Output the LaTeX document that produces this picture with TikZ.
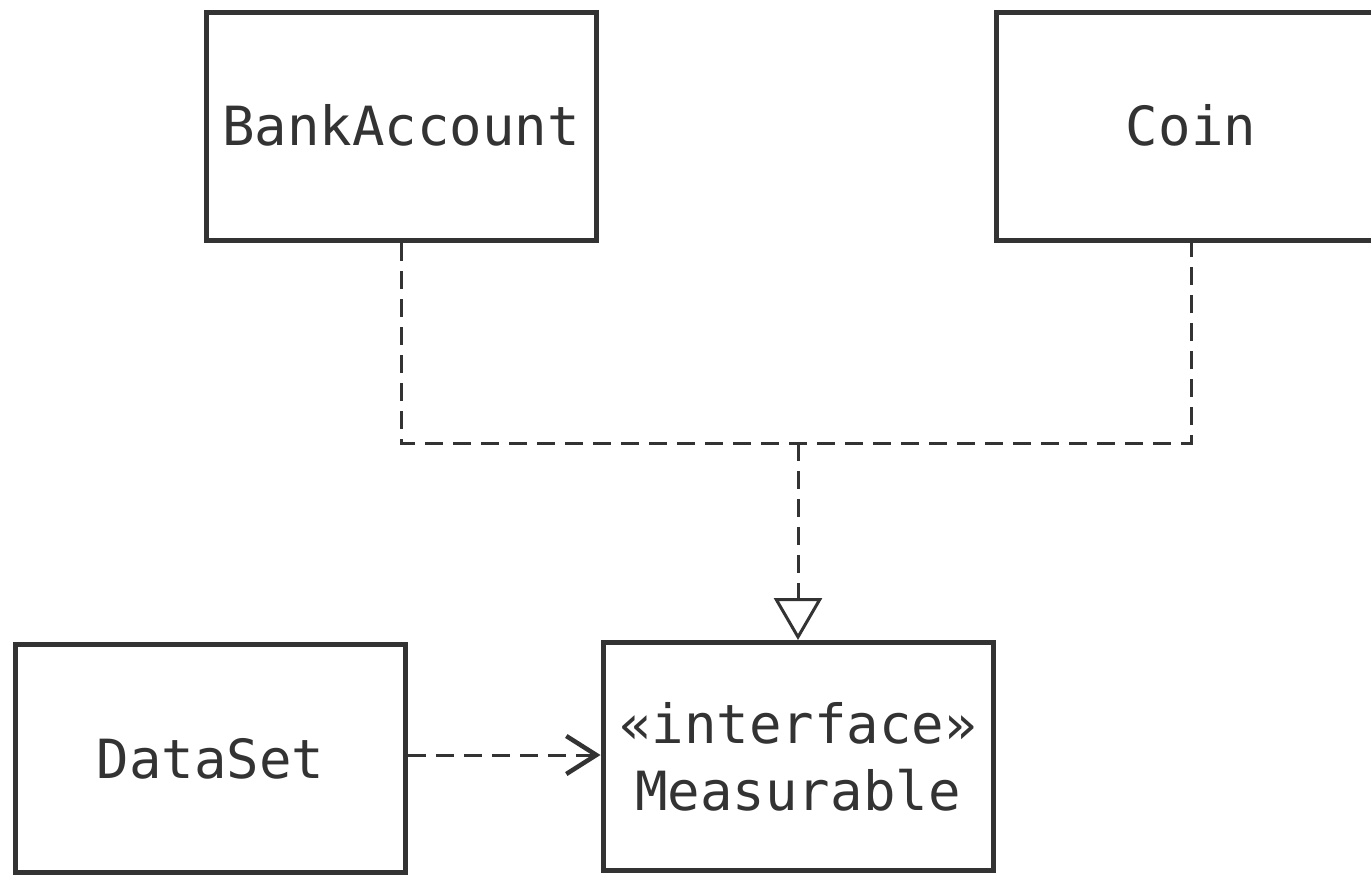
\documentclass[tikz,border=0pt]{standalone}
\usepackage{fontspec}
\setmonofont{DejaVu Sans Mono}
\usetikzlibrary{arrows.meta}
\definecolor{ink}{HTML}{333333}
\tikzset{
  classbox/.style={draw=ink, line width=5pt, fill=white, rectangle,
    minimum width=390pt, minimum height=228pt, inner sep=0pt,
    text=ink, font=\ttfamily\fontsize{54}{67}\selectfont, align=center},
  depline/.style={draw=ink, line width=3pt, dash pattern=on 18pt off 10pt},
  realizes/.style={depline, -{Triangle[open, length=42pt, width=48pt, fill=white]}},
  uses/.style={depline, -{Straight Barb[length=30pt, width=38pt, line width=4.5pt]}}
}
\begin{document}
\begin{tikzpicture}[x=1pt, y=-1pt]
  \useasboundingbox (0,0) rectangle (1371,875);
  \clip (0,0) rectangle (1371,875);
  \fill[white] (0,0) rectangle (1371,875);

  % classes
  \node[classbox] (ba)   at (401,126.5) {\raisebox{3pt}{BankAccount}};
  \node[classbox] (coin) at (1191,126.5) {\raisebox{3pt}{Coin}};
  \node[classbox] (ds)   at (210.5,758.5) {DataSet};
  \node[classbox] (ms)   at (798,756.5) {«interface»\\Measurable};

  % realization of the interface
  \coordinate (j) at (ms.north |- 0,443);
  \draw[depline] (ba.south) |- (j) -| (coin.south);
  \draw[realizes] (j) -- (ms.north);

  % dependency
  \draw[uses] (ds.east |- 0,755) -- (ms.west |- 0,755);
\end{tikzpicture}
\end{document}
